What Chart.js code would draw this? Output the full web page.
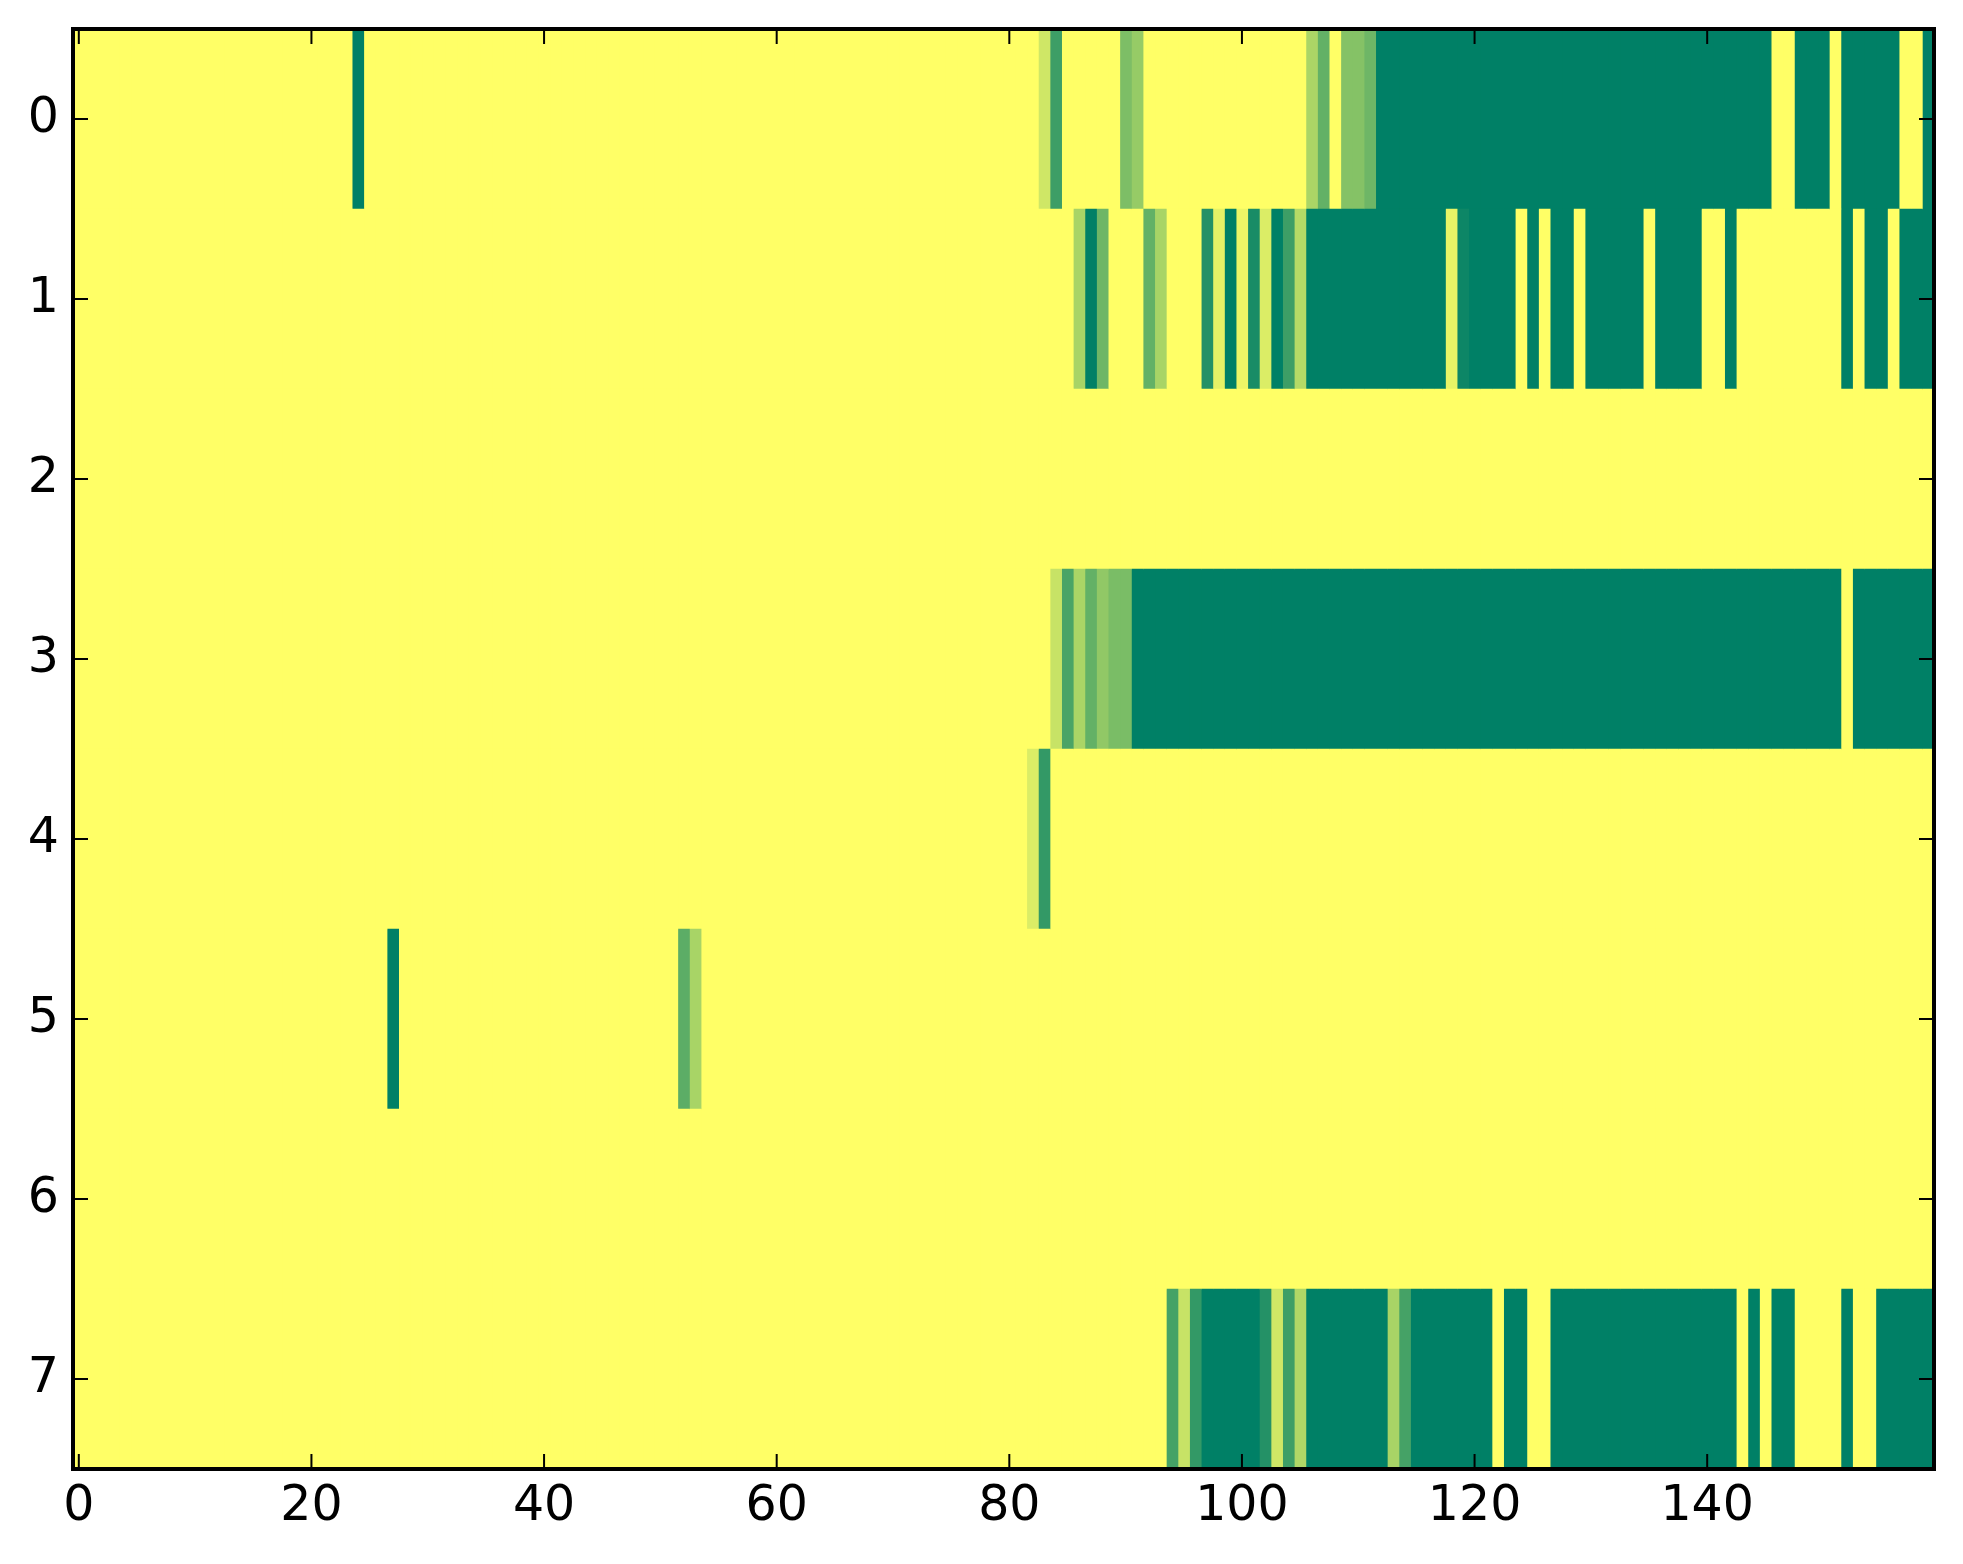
<!DOCTYPE html>
<html>
<head>
<meta charset="utf-8">
<title>Heatmap</title>
<script src="https://cdn.jsdelivr.net/npm/chart.js@4.4.1/dist/chart.umd.min.js"></script>
<style>
  html, body { margin: 0; padding: 0; background: #ffffff; }
  canvas { display: block; }
</style>
</head>
<body>
<canvas id="heatmap" width="1963" height="1564"></canvas>
<script>
// Row labels (top to bottom) and x tick values
const rowLabels = ['0', '1', '2', '3', '4', '5', '6', '7'];
const xTicks = [0, 20, 40, 60, 80, 100, 120, 140];

// Cell values per row, 160 columns each (0 = yellow, 1 = dark green)
const row0 = [
  0,0,0,0,0,0,0,0,0,0,0,0,0,0,0,0,0,0,0,0,
  0,0,0,0,1,0,0,0,0,0,0,0,0,0,0,0,0,0,0,0,
  0,0,0,0,0,0,0,0,0,0,0,0,0,0,0,0,0,0,0,0,
  0,0,0,0,0,0,0,0,0,0,0,0,0,0,0,0,0,0,0,0,
  0,0,0,0.19,0.76,0,0,0,0,0,0.51,0.41,0,0,0,0,0,0,0,0,
  0,0,0,0,0,0,0.33,0.61,0,0.48,0.48,0.57,1,1,1,1,1,1,1,1,
  1,1,1,1,1,1,1,1,1,1,1,1,1,1,1,1,1,1,1,1,
  1,1,1,1,1,1,0,0,1,1,1,0,1,1,1,1,1,0,0,1
];
const row1 = [
  0,0,0,0,0,0,0,0,0,0,0,0,0,0,0,0,0,0,0,0,
  0,0,0,0,0,0,0,0,0,0,0,0,0,0,0,0,0,0,0,0,
  0,0,0,0,0,0,0,0,0,0,0,0,0,0,0,0,0,0,0,0,
  0,0,0,0,0,0,0,0,0,0,0,0,0,0,0,0,0,0,0,0,
  0,0,0,0,0,0,0.34,1,0.57,0,0,0,0.61,0.34,0,0,0,0.86,0.1,1,
  0.07,0.9,0.14,1,0.76,0.29,1,1,1,1,1,1,1,1,1,1,1,1,0.09,0.95,
  1,1,1,1,0,1,0,1,1,0,1,1,1,1,1,0,1,1,1,1,
  0,0,1,0,0,0,0,0,0,0,0,0,1,0,1,1,0,1,1,1
];
const row2 = [
  0,0,0,0,0,0,0,0,0,0,0,0,0,0,0,0,0,0,0,0,
  0,0,0,0,0,0,0,0,0,0,0,0,0,0,0,0,0,0,0,0,
  0,0,0,0,0,0,0,0,0,0,0,0,0,0,0,0,0,0,0,0,
  0,0,0,0,0,0,0,0,0,0,0,0,0,0,0,0,0,0,0,0,
  0,0,0,0,0,0,0,0,0,0,0,0,0,0,0,0,0,0,0,0,
  0,0,0,0,0,0,0,0,0,0,0,0,0,0,0,0,0,0,0,0,
  0,0,0,0,0,0,0,0,0,0,0,0,0,0,0,0,0,0,0,0,
  0,0,0,0,0,0,0,0,0,0,0,0,0,0,0,0,0,0,0,0
];
const row3 = [
  0,0,0,0,0,0,0,0,0,0,0,0,0,0,0,0,0,0,0,0,
  0,0,0,0,0,0,0,0,0,0,0,0,0,0,0,0,0,0,0,0,
  0,0,0,0,0,0,0,0,0,0,0,0,0,0,0,0,0,0,0,0,
  0,0,0,0,0,0,0,0,0,0,0,0,0,0,0,0,0,0,0,0,
  0,0,0,0,0.22,0.71,0.33,0.61,0.43,0.52,0.52,1,1,1,1,1,1,1,1,1,
  1,1,1,1,1,1,1,1,1,1,1,1,1,1,1,1,1,1,1,1,
  1,1,1,1,1,1,1,1,1,1,1,1,1,1,1,1,1,1,1,1,
  1,1,1,1,1,1,1,1,1,1,1,1,0,1,1,1,1,1,1,1
];
const row4 = [
  0,0,0,0,0,0,0,0,0,0,0,0,0,0,0,0,0,0,0,0,
  0,0,0,0,0,0,0,0,0,0,0,0,0,0,0,0,0,0,0,0,
  0,0,0,0,0,0,0,0,0,0,0,0,0,0,0,0,0,0,0,0,
  0,0,0,0,0,0,0,0,0,0,0,0,0,0,0,0,0,0,0,0,
  0,0,0.14,0.8,0,0,0,0,0,0,0,0,0,0,0,0,0,0,0,0,
  0,0,0,0,0,0,0,0,0,0,0,0,0,0,0,0,0,0,0,0,
  0,0,0,0,0,0,0,0,0,0,0,0,0,0,0,0,0,0,0,0,
  0,0,0,0,0,0,0,0,0,0,0,0,0,0,0,0,0,0,0,0
];
const row5 = [
  0,0,0,0,0,0,0,0,0,0,0,0,0,0,0,0,0,0,0,0,
  0,0,0,0,0,0,0,1,0,0,0,0,0,0,0,0,0,0,0,0,
  0,0,0,0,0,0,0,0,0,0,0,0,0.64,0.34,0,0,0,0,0,0,
  0,0,0,0,0,0,0,0,0,0,0,0,0,0,0,0,0,0,0,0,
  0,0,0,0,0,0,0,0,0,0,0,0,0,0,0,0,0,0,0,0,
  0,0,0,0,0,0,0,0,0,0,0,0,0,0,0,0,0,0,0,0,
  0,0,0,0,0,0,0,0,0,0,0,0,0,0,0,0,0,0,0,0,
  0,0,0,0,0,0,0,0,0,0,0,0,0,0,0,0,0,0,0,0
];
const row6 = [
  0,0,0,0,0,0,0,0,0,0,0,0,0,0,0,0,0,0,0,0,
  0,0,0,0,0,0,0,0,0,0,0,0,0,0,0,0,0,0,0,0,
  0,0,0,0,0,0,0,0,0,0,0,0,0,0,0,0,0,0,0,0,
  0,0,0,0,0,0,0,0,0,0,0,0,0,0,0,0,0,0,0,0,
  0,0,0,0,0,0,0,0,0,0,0,0,0,0,0,0,0,0,0,0,
  0,0,0,0,0,0,0,0,0,0,0,0,0,0,0,0,0,0,0,0,
  0,0,0,0,0,0,0,0,0,0,0,0,0,0,0,0,0,0,0,0,
  0,0,0,0,0,0,0,0,0,0,0,0,0,0,0,0,0,0,0,0
];
const row7 = [
  0,0,0,0,0,0,0,0,0,0,0,0,0,0,0,0,0,0,0,0,
  0,0,0,0,0,0,0,0,0,0,0,0,0,0,0,0,0,0,0,0,
  0,0,0,0,0,0,0,0,0,0,0,0,0,0,0,0,0,0,0,0,
  0,0,0,0,0,0,0,0,0,0,0,0,0,0,0,0,0,0,0,0,
  0,0,0,0,0,0,0,0,0,0,0,0,0,0,0.73,0.22,0.8,1,1,1,
  1,1,0.86,0.19,0.76,0.31,1,1,1,1,1,1,1,0.34,0.73,1,1,1,1,1,
  1,1,0,1,1,0,0,1,1,1,1,1,1,1,1,1,1,1,1,1,
  1,1,1,0,1,0,1,1,0,0,0,0,1,0,0,1,1,1,1,1
];

const rows = [row0, row1, row2, row3, row4, row5, row6, row7];
const nCols = row0.length;

// matplotlib "summer_r" colormap
function summerR(v) {
  const r = Math.round(255 * (1 - v));
  const g = Math.round(255 * (1 - v / 2));
  return 'rgb(' + r + ', ' + g + ', 102)';
}

// One floating-bar dataset per column, one bar per row.
// Each bar reaches a little to the left so the next column drawn on top hides any seam.
const datasets = [];
for (let c = 0; c < nCols; c++) {
  datasets.push({
    data: rows.map(() => [c - 0.65, c + 0.5]),
    backgroundColor: rows.map(r => summerR(r[c])),
    borderWidth: 0,
    barPercentage: 1,
    categoryPercentage: 1,
    grouped: false
  });
}

// Frame with inward tick marks on all four sides (classic matplotlib look)
const framePlugin = {
  id: 'frame',
  afterDatasetsDraw(chart) {
    const { ctx, chartArea: a, scales } = chart;
    ctx.save();
    ctx.strokeStyle = '#000';
    ctx.lineWidth = 2;
    ctx.beginPath();
    scales.x.ticks.forEach(t => {
      const px = scales.x.getPixelForValue(t.value);
      ctx.moveTo(px, a.bottom);
      ctx.lineTo(px, a.bottom - 15);
      ctx.moveTo(px, a.top);
      ctx.lineTo(px, a.top + 15);
    });
    rowLabels.forEach((label, i) => {
      const py = scales.y.getPixelForValue(i);
      ctx.moveTo(a.left, py);
      ctx.lineTo(a.left + 15, py);
      ctx.moveTo(a.right, py);
      ctx.lineTo(a.right - 15, py);
    });
    ctx.stroke();
    ctx.lineWidth = 4;
    ctx.strokeRect(a.left, a.top, a.right - a.left, a.bottom - a.top);
    ctx.restore();
  }
};

const tickFont = { family: 'DejaVu Sans', size: 49 };

new Chart(document.getElementById('heatmap').getContext('2d'), {
  type: 'bar',
  data: {
    labels: rowLabels,
    datasets: datasets
  },
  options: {
    indexAxis: 'y',
    responsive: false,
    devicePixelRatio: 1,
    animation: false,
    layout: {
      padding: { left: 0, right: 29, top: 29, bottom: 0 }
    },
    plugins: {
      legend: { display: false },
      tooltip: { enabled: false }
    },
    scales: {
      x: {
        type: 'linear',
        position: 'bottom',
        min: -0.5,
        max: nCols - 0.5,
        grid: { display: false, drawTicks: false },
        border: { display: false },
        afterBuildTicks: scale => {
          scale.ticks = xTicks.map(v => ({ value: v }));
        },
        afterFit: scale => {
          scale.height = 95;
          scale.paddingLeft = 0;
          scale.paddingRight = 0;
        },
        ticks: {
          font: tickFont,
          color: '#000',
          padding: 9,
          maxRotation: 0,
          autoSkip: false
        }
      },
      y: {
        type: 'category',
        offset: true,
        grid: { display: false, drawTicks: false },
        border: { display: false },
        afterFit: scale => {
          scale.width = 73;
          scale.paddingTop = 0;
          scale.paddingBottom = 0;
        },
        ticks: {
          font: tickFont,
          color: '#000',
          padding: 14
        }
      }
    }
  },
  plugins: [framePlugin]
});
</script>
</body>
</html>
